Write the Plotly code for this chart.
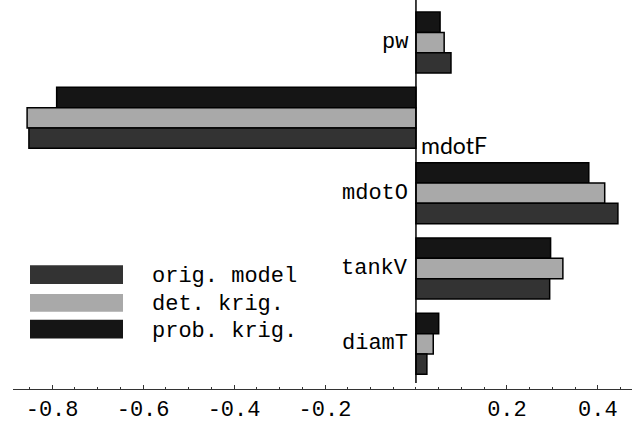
import plotly.graph_objects as go

categories = ["pw", "mdotF", "mdotO", "tankV", "diamT"]
series_names = ["orig. model", "det. krig.", "prob. krig."]
orig_model = [0.077, -0.851, 0.444, 0.294, 0.024]
det_krig = [0.062, -0.855, 0.415, 0.323, 0.038]
prob_krig = [0.053, -0.790, 0.380, 0.296, 0.050]
tick_vals = [-0.8, -0.6, -0.4, -0.2, 0.2, 0.4]
tick_text = ["-0.8", "-0.6", "-0.4", "-0.2", "0.2", "0.4"]

colors = {"orig. model": "#333333", "det. krig.": "#a9a9a9", "prob. krig.": "#151515"}
values = {"orig. model": orig_model, "det. krig.": det_krig, "prob. krig.": prob_krig}

mono = "Liberation Mono, DejaVu Sans Mono, monospace"

fig = go.Figure()
# top-to-bottom within each group: prob, det, orig
for name in ["prob. krig.", "det. krig.", "orig. model"]:
    fig.add_trace(go.Bar(
        x=values[name], y=categories, orientation="h", name=name,
        marker=dict(color=colors[name], line=dict(color="black", width=1.5)),
        showlegend=False, hoverinfo="skip",
    ))

# category labels on the opposite side of the bars
annotations = []
for i, cat in enumerate(categories):
    neg = orig_model[i] < 0
    if neg:
        annotations.append(dict(x=0, y=cat, xref="x", yref="y", text=cat,
                                showarrow=False, xanchor="left", xshift=3, yshift=-27,
                                font=dict(family="Lato, Noto Sans, sans-serif", size=23, color="black")))
    else:
        annotations.append(dict(x=0, y=cat, xref="x", yref="y", text=cat,
                                showarrow=False, xanchor="right", xshift=-6,
                                font=dict(family=mono, size=22, color="black")))

# legend drawn as swatches + text
shapes = []
leg_rows = [(268, 287), (297, 315), (323, 342)]
H = 393.0
W0, W = 13.0, 619.0
for name, (ya, yb) in zip(series_names, leg_rows):
    shapes.append(dict(type="rect", xref="paper", yref="paper",
                       x0=(30 - W0) / W, x1=(123 - W0) / W,
                       y0=(H - yb) / H, y1=(H - ya) / H,
                       fillcolor=colors[name], line=dict(width=0)))
    annotations.append(dict(x=(150 - W0) / W, y=(H - (ya + yb) / 2 - 2) / H, xref="paper", yref="paper",
                            text=name, showarrow=False, xanchor="left", yanchor="middle",
                            font=dict(family=mono, size=22, color="black")))

# vertical zero line
shapes.append(dict(type="line", xref="x", yref="paper", x0=0, x1=0,
                   y0=(H - 387) / H, y1=1, line=dict(color="black", width=1.5)))

fig.update_layout(
    width=635, height=423,
    margin=dict(l=13, r=3, t=0, b=30),
    paper_bgcolor="white", plot_bgcolor="white",
    barmode="group", bargap=0.19, bargroupgap=0,
    annotations=annotations, shapes=shapes,
    xaxis=dict(range=[-0.886, 0.475], tickvals=tick_vals, ticktext=tick_text,
               showgrid=False, zeroline=False, showline=True, linecolor="#333", linewidth=1,
               ticks="inside", ticklen=4, tickcolor="#333", tickwidth=1,
               minor=dict(dtick=0.05, ticks="inside", ticklen=2, tickcolor="#333"),
               tickfont=dict(family=mono, size=22, color="black")),
    yaxis=dict(type="category", categoryorder="array", categoryarray=categories,
               range=[4.60, -0.565], showticklabels=False, showgrid=False,
               zeroline=False, showline=False, ticks=""),
)

fig.write_html("out.html", config={"displayModeBar": False},
               post_script="document.body.style.margin='0';document.body.style.overflow='hidden';")
